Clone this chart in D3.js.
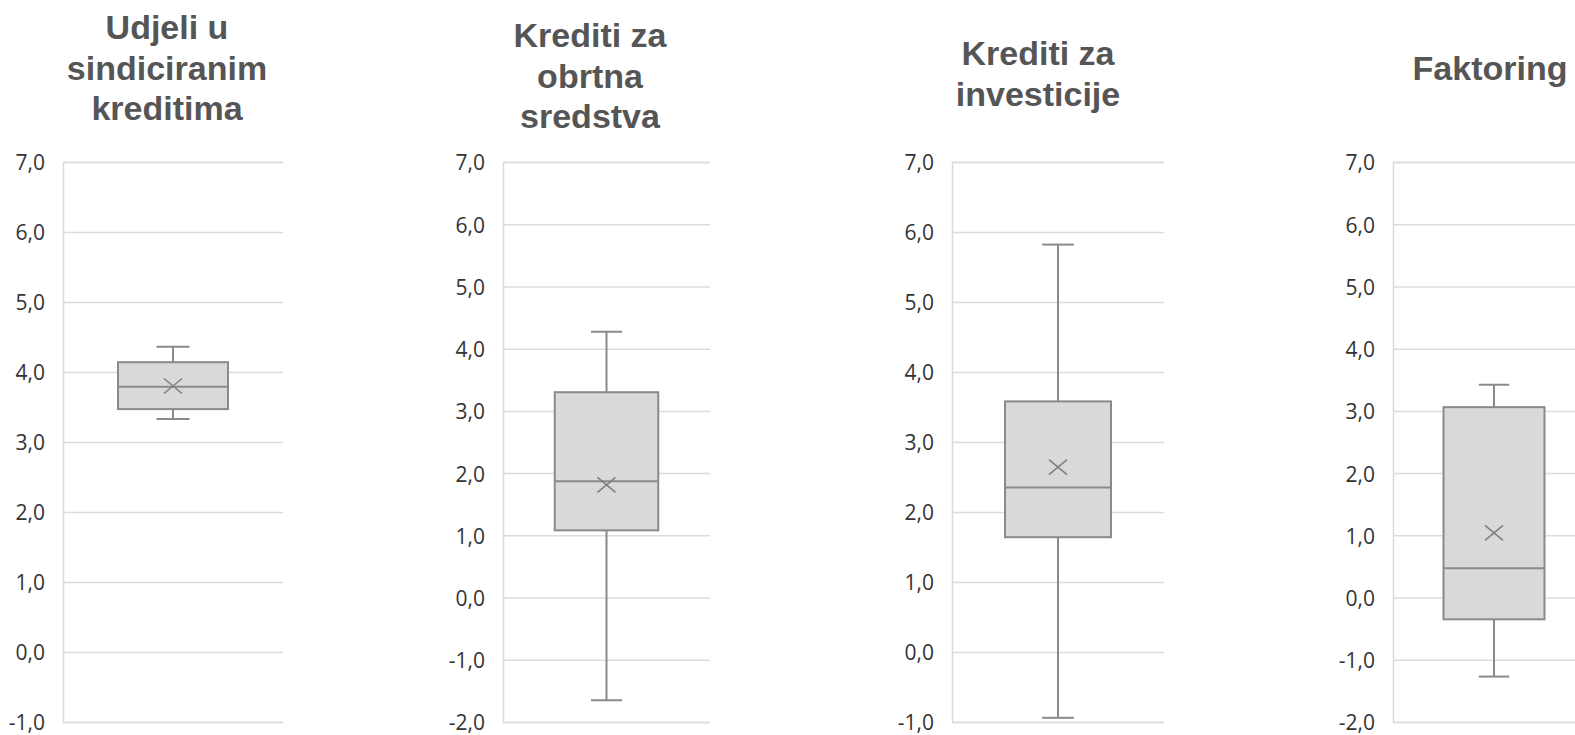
<!DOCTYPE html>
<html>
<head>
<meta charset="utf-8">
<script src="https://cdn.jsdelivr.net/npm/d3@7"></script>
<style>
  body { margin: 0; background: #fff; }
  svg { display: block; }
</style>
</head>
<body>
<svg id="chart"></svg>
<script>
// box plot values
var titles = [
  ["Udjeli u", "sindiciranim", "kreditima"],
  ["Krediti za", "obrtna", "sredstva"],
  ["Krediti za", "investicije"],
  ["Faktoring"]
];
var whiskerLow  = [3.33, -1.65, -0.94, -1.27];
var q1          = [3.47,  1.08,  1.64, -0.35];
var medians     = [3.79,  1.87,  2.35,  0.47];
var q3          = [4.14,  3.30,  3.58,  3.06];
var whiskerHigh = [4.36,  4.27,  5.82,  3.42];
var means       = [3.80,  1.81,  2.64,  1.04];
var axisMin     = [-1, -2, -1, -2];
var axisMax     = [7, 7, 7, 7];

var width = 1575, height = 735;

// where each little chart sits
var panels = [
  {x0: 63,   x1: 283,  titleX: 167,  titleY: 39},
  {x0: 503,  x1: 710,  titleX: 590,  titleY: 47},
  {x0: 952,  x1: 1164, titleX: 1038, titleY: 65},
  {x0: 1393, x1: 1595, titleX: 1490, titleY: 80}
];
var plotTop = 162, plotBottom = 722;
var lineH = 40.5;

var svg = d3.select("#chart")
  .attr("width", width)
  .attr("height", height);

// comma decimals and a plain hyphen for negatives, like the original
var loc = d3.formatLocale({decimal: ",", thousands: ".", grouping: [3], currency: ["", ""], minus: "-"});
var fmt = loc.format(".1f");

panels.forEach(function(p, i) {
  var y = d3.scaleLinear()
    .domain([axisMin[i], axisMax[i]])
    .range([plotBottom, plotTop]);

  var x = d3.scaleBand()
    .domain([titles[i].join(" ")])
    .range([p.x0, p.x1])
    .padding(1/3);

  var g = svg.append("g");

  // title
  var t = g.append("text")
    .attr("text-anchor", "middle")
    .attr("font-family", "'Liberation Sans', Arial, sans-serif")
    .attr("font-weight", "bold")
    .attr("font-size", "34px")
    .attr("fill", "#555555");
  titles[i].forEach(function(line, k) {
    t.append("tspan")
      .attr("x", p.titleX)
      .attr("y", p.titleY + k * lineH)
      .text(line);
  });

  // y axis with gridlines
  var ticks = d3.range(axisMin[i], axisMax[i] + 0.5, 1);
  var axis = d3.axisLeft(y)
    .tickValues(ticks)
    .tickSize(-(p.x1 - p.x0))
    .tickPadding(18)
    .tickFormat(fmt);

  var ax = g.append("g")
    .attr("transform", "translate(" + p.x0 + ",0)")
    .call(axis);
  ax.select(".domain").attr("stroke", "#d9d9d9").attr("stroke-width", 1.5);
  ax.selectAll(".tick line").attr("stroke", "#dcdcdc").attr("stroke-width", 1.5);
  ax.selectAll(".tick text")
    .attr("font-family", "'Open Sans', sans-serif")
    .attr("font-size", "21px")
    .attr("fill", "#333333")
    .attr("dy", "0.38em");

  // box
  var cx = x(x.domain()[0]) + x.bandwidth() / 2;
  var bw = x.bandwidth();
  var cap = bw * 0.3;
  var col = "#8a8a8a";

  g.append("line")
    .attr("x1", cx).attr("x2", cx)
    .attr("y1", y(whiskerHigh[i])).attr("y2", y(q3[i]))
    .attr("stroke", col).attr("stroke-width", 2);
  g.append("line")
    .attr("x1", cx).attr("x2", cx)
    .attr("y1", y(q1[i])).attr("y2", y(whiskerLow[i]))
    .attr("stroke", col).attr("stroke-width", 2);
  [whiskerHigh[i], whiskerLow[i]].forEach(function(v) {
    g.append("line")
      .attr("x1", cx - cap / 2).attr("x2", cx + cap / 2)
      .attr("y1", y(v)).attr("y2", y(v))
      .attr("stroke", col).attr("stroke-width", 2);
  });

  g.append("rect")
    .attr("x", x(x.domain()[0]))
    .attr("y", y(q3[i]))
    .attr("width", bw)
    .attr("height", y(q1[i]) - y(q3[i]))
    .attr("fill", "#d9d9d9")
    .attr("stroke", col)
    .attr("stroke-width", 2);

  g.append("line")
    .attr("x1", x(x.domain()[0])).attr("x2", x(x.domain()[0]) + bw)
    .attr("y1", y(medians[i])).attr("y2", y(medians[i]))
    .attr("stroke", col).attr("stroke-width", 2);

  // mean marker
  var my = y(means[i]), mw = 9, mh = 7.5;
  g.append("path")
    .attr("d", "M" + (cx - mw) + "," + (my - mh) + "L" + (cx + mw) + "," + (my + mh) +
               "M" + (cx - mw) + "," + (my + mh) + "L" + (cx + mw) + "," + (my - mh))
    .attr("stroke", "#808080")
    .attr("stroke-width", 1.6)
    .attr("fill", "none");
});
</script>
</body>
</html>
